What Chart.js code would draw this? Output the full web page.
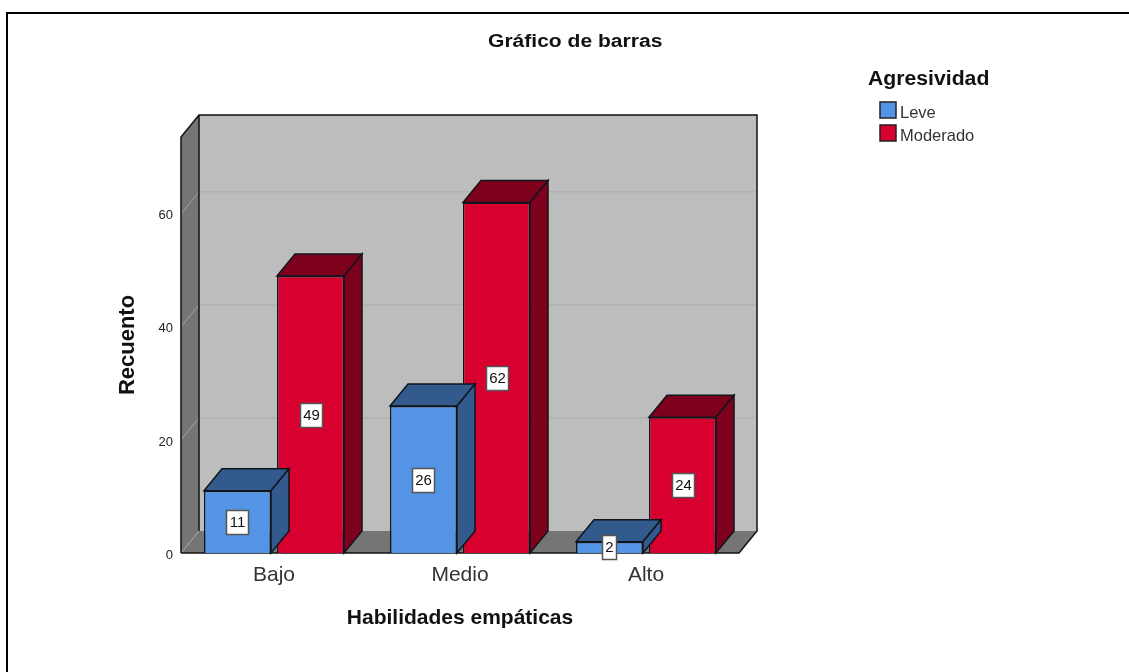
<!DOCTYPE html>
<html>
<head>
<meta charset="utf-8">
<title>Gráfico de barras</title>
<script src="https://cdn.jsdelivr.net/npm/chart.js@4"></script>
<style>
  html, body { margin: 0; padding: 0; background: #fff; }
  #wrap { position: relative; width: 1129px; height: 672px; overflow: hidden; }
  #frame { position: absolute; left: 6px; top: 12px; width: 1200px; height: 700px; border: 2px solid #000; box-sizing: border-box; }
  canvas { position: absolute; left: 0; top: 0; }
  .txt { position: absolute; font-family: "Liberation Sans", Arial, sans-serif; font-weight: bold; color: #111; white-space: nowrap; transform-origin: left center; }
  #chartTitle { left: 488px; top: 31px; font-size: 18px; transform: scaleX(1.17); }
  #legendTitle { left: 868px; top: 67px; font-size: 20px; transform: scaleX(1.06); }
</style>
</head>
<body>
<div id="wrap">
  <div id="frame"></div>
  <canvas id="barChart" width="1129" height="672"></canvas>
  <div class="txt" id="chartTitle">Gráfico de barras</div>
  <div class="txt" id="legendTitle">Agresividad</div>
</div>
<script>
const categories = ['Bajo', 'Medio', 'Alto'];
const leve = [11, 26, 2];
const moderado = [49, 62, 24];
const yTicks = [0, 20, 40, 60];

const blue = '#5394e4', blueDark = '#325a8c';
const red = '#d7002f', redDark = '#7d001c';
const depthX = 18, depthY = -22;
const fontFamily = '"Liberation Sans", Arial, sans-serif';

function face(c, pts, fill) {
  c.beginPath();
  pts.forEach((p, i) => i ? c.lineTo(p[0], p[1]) : c.moveTo(p[0], p[1]));
  c.closePath();
  c.fillStyle = fill;
  c.fill();
  c.strokeStyle = '#10151c';
  c.lineWidth = 1.5;
  c.stroke();
}

// back wall, side wall and floor
const wallsPlugin = {
  id: 'walls',
  beforeDatasetsDraw(chart) {
    const c = chart.ctx, a = chart.chartArea, y = chart.scales.y;
    c.save();
    c.fillStyle = '#bdbdbd';
    c.fillRect(a.left + depthX, a.top + depthY, a.width, a.height);
    c.fillStyle = '#757575';
    c.beginPath();
    c.moveTo(a.left, a.bottom); c.lineTo(a.left + depthX, a.bottom + depthY);
    c.lineTo(a.right + depthX, a.bottom + depthY); c.lineTo(a.right, a.bottom);
    c.closePath(); c.fill();
    c.beginPath();
    c.moveTo(a.left, a.top); c.lineTo(a.left + depthX, a.top + depthY);
    c.lineTo(a.left + depthX, a.bottom + depthY); c.lineTo(a.left, a.bottom);
    c.closePath(); c.fill();

    // grid lines on the side wall and back wall
    c.lineWidth = 1;
    yTicks.slice(1).forEach(t => {
      const py = y.getPixelForValue(t);
      c.strokeStyle = '#a3a3a3';
      c.beginPath();
      c.moveTo(a.left, py); c.lineTo(a.left + depthX, py + depthY);
      c.stroke();
      c.strokeStyle = '#adadad';
      c.beginPath();
      c.moveTo(a.left + depthX, py + depthY); c.lineTo(a.right + depthX, py + depthY);
      c.stroke();
    });
    c.strokeStyle = '#a3a3a3';
    c.beginPath();
    c.moveTo(a.left, a.bottom); c.lineTo(a.left + depthX, a.bottom + depthY);
    c.stroke();

    // outlines
    c.strokeStyle = '#111';
    c.lineWidth = 1.5;
    c.beginPath();
    c.moveTo(a.left, a.bottom); c.lineTo(a.left, a.top);
    c.lineTo(a.left + depthX, a.top + depthY); c.lineTo(a.right + depthX, a.top + depthY);
    c.lineTo(a.right + depthX, a.bottom + depthY); c.lineTo(a.right, a.bottom);
    c.lineTo(a.left, a.bottom);
    c.moveTo(a.left + depthX, a.top + depthY); c.lineTo(a.left + depthX, a.bottom + depthY);
    c.stroke();
    c.restore();
  }
};

// top and side faces of each bar, drawn from the library's bar elements
const depthPlugin = {
  id: 'barDepth',
  afterDatasetDraw(chart, args) {
    const c = chart.ctx;
    const dark = args.index === 0 ? blueDark : redDark;
    c.save();
    args.meta.data.forEach(b => {
      const l = b.x - b.width / 2, r = b.x + b.width / 2, t = b.y, bt = b.base;
      face(c, [[l, t], [l + depthX, t + depthY], [r + depthX, t + depthY], [r, t]], dark);
      face(c, [[r, t], [r + depthX, t + depthY], [r + depthX, bt + depthY], [r, bt]], dark);
    });
    c.restore();
  }
};

// boxed counts in the middle of the bars
const labelPlugin = {
  id: 'boxedLabels',
  afterDraw(chart) {
    const c = chart.ctx;
    c.save();
    c.font = '15px ' + fontFamily;
    c.textAlign = 'center';
    c.textBaseline = 'middle';
    chart.data.datasets.forEach((ds, i) => {
      chart.getDatasetMeta(i).data.forEach((b, j) => {
        const cy = Math.round((b.y + b.base) / 2);
        const text = String(ds.data[j]);
        const w = text.length > 1 ? 22 : 14;
        const h = 24;
        const x = Math.round(b.x - w / 2) + 0.5, y = cy - h / 2 + 0.5;
        c.fillStyle = '#fff';
        c.fillRect(x, y, w, h);
        c.strokeStyle = '#555';
        c.lineWidth = 1.5;
        c.strokeRect(x, y, w, h);
        c.fillStyle = '#111';
        c.fillText(text, x + w / 2, cy + 1);
      });
    });
    c.restore();
  }
};

// legend swatches and labels, Chart.js legend is off to place it like the original
const legendPlugin = {
  id: 'sideLegend',
  afterDraw(chart) {
    const c = chart.ctx;
    c.save();
    c.font = '16.5px ' + fontFamily;
    c.textBaseline = 'middle';
    chart.data.datasets.forEach((ds, i) => {
      const y = 102 + i * 23;
      c.fillStyle = ds.backgroundColor;
      c.fillRect(880, y, 16, 16);
      c.strokeStyle = '#222';
      c.lineWidth = 1.5;
      c.strokeRect(880, y, 16, 16);
      c.fillStyle = '#333';
      c.fillText(ds.label, 900, y + 11);
    });
    c.restore();
  }
};

new Chart(document.getElementById('barChart').getContext('2d'), {
  type: 'bar',
  data: {
    labels: categories,
    datasets: [
      { label: 'Leve', data: leve, backgroundColor: blue, borderColor: '#10151c', borderWidth: 1.5 },
      { label: 'Moderado', data: moderado, backgroundColor: red, borderColor: '#10151c', borderWidth: 1.5 }
    ]
  },
  options: {
    responsive: false,
    animation: false,
    layout: { padding: { left: 0, top: 137, right: 390, bottom: 0 } },
    categoryPercentage: 0.785,
    barPercentage: 0.918,
    plugins: {
      legend: { display: false },
      tooltip: { enabled: false }
    },
    scales: {
      x: {
        grid: { display: false },
        border: { display: false },
        afterFit(axis) { axis.height = 119; },
        ticks: { color: '#333', font: { family: fontFamily, size: 21 }, padding: 2 },
        title: {
          display: true,
          text: 'Habilidades empáticas',
          color: '#111',
          font: { family: fontFamily, size: 21, weight: 'bold' },
          padding: { top: 0, bottom: 41 }
        }
      },
      y: {
        min: 0,
        max: 73.6,
        afterBuildTicks(axis) { axis.ticks = yTicks.map(v => ({ value: v })); },
        afterFit(axis) { axis.width = 181; },
        grid: { display: false },
        border: { display: false },
        ticks: { color: '#222', font: { family: fontFamily, size: 13 }, padding: 0, labelOffset: 2 },
        title: {
          display: true,
          text: 'Recuento',
          color: '#111',
          font: { family: fontFamily, size: 22, weight: 'bold' },
          padding: { top: 115, bottom: 0 }
        }
      }
    }
  },
  plugins: [wallsPlugin, depthPlugin, labelPlugin, legendPlugin]
});
</script>
</body>
</html>
